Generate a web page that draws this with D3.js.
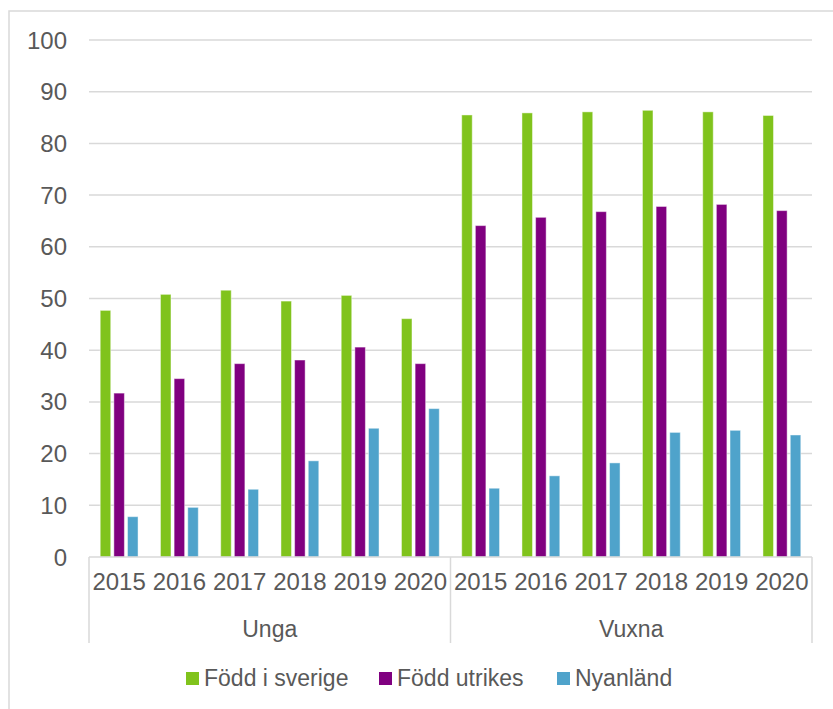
<!DOCTYPE html>
<html>
<head>
<meta charset="utf-8">
<script src="https://cdn.jsdelivr.net/npm/d3@7"></script>
<style>
  html, body { margin: 0; padding: 0; background: #fff; }
  svg text { font-family: "Liberation Sans", Arial, sans-serif; fill: #595959; }
</style>
</head>
<body>
<svg id="chart" width="833" height="709"></svg>
<script>
const groups = ["Unga", "Vuxna"];
const years = ["2015", "2016", "2017", "2018", "2019", "2020"];
const seriesNames = ["Född i sverige", "Född utrikes", "Nyanländ"];
const seriesColors = ["#80c31c", "#800080", "#4fa3cb"];
const foddSverige = [47.7, 50.8, 51.6, 49.5, 50.6, 46.1, 85.5, 85.9, 86.1, 86.4, 86.1, 85.4];
const foddUtrikes = [31.7, 34.5, 37.4, 38.1, 40.6, 37.4, 64.1, 65.7, 66.8, 67.8, 68.2, 67.0];
const nyanland = [7.8, 9.6, 13.1, 18.6, 24.9, 28.7, 13.3, 15.7, 18.2, 24.1, 24.5, 23.6];
const yTicks = [0, 10, 20, 30, 40, 50, 60, 70, 80, 90, 100];

(function () {
const seriesValues = [foddSverige, foddUtrikes, nyanland];
const categories = [];
groups.forEach(g => years.forEach(y => categories.push(g + "|" + y)));

const svg = d3.select("#chart");
const pLeft = 89, pRight = 812, pTop = 40, pBottom = 557;

// outer border
svg.append("rect").attr("x", 9).attr("y", 11).attr("width", 840).attr("height", 720)
  .attr("fill", "none").attr("stroke", "#d9d9d9").attr("stroke-width", 1.5);

const y = d3.scaleLinear().domain([0, 100]).range([pBottom, pTop]);
const x = d3.scaleBand().domain(categories).range([pLeft, pRight]).paddingInner(0).paddingOuter(0);
const xs = d3.scaleBand().domain(d3.range(3)).range([x.bandwidth() / 2 - 20, x.bandwidth() / 2 + 20]).paddingInner(0.23).paddingOuter(0.08);

// gridlines
svg.append("g").selectAll("line").data(yTicks.filter(d => d > 0)).join("line")
  .attr("x1", pLeft).attr("x2", pRight)
  .attr("y1", d => y(d)).attr("y2", d => y(d))
  .attr("stroke", "#d9d9d9").attr("stroke-width", 1.5);

// y labels
svg.append("g").selectAll("text").data(yTicks).join("text")
  .attr("x", 67).attr("y", d => y(d) + 8.5)
  .attr("text-anchor", "end").attr("font-size", 24)
  .text(d => d);

// bars
seriesValues.forEach((vals, si) => {
  svg.append("g").selectAll("rect").data(vals).join("rect")
    .attr("x", (d, i) => x(categories[i]) + xs(si))
    .attr("width", xs.bandwidth())
    .attr("y", d => y(d))
    .attr("height", d => y(0) - y(d))
    .attr("fill", seriesColors[si])
    .attr("stroke", "#ffffff").attr("stroke-opacity", 0.45).attr("stroke-width", 1);
});

// x axis baseline
svg.append("line").attr("x1", pLeft).attr("x2", pRight).attr("y1", pBottom).attr("y2", pBottom)
  .attr("stroke", "#d9d9d9").attr("stroke-width", 1.5);

// group separators
const sepX = [pLeft, x(categories[6]), pRight];
svg.append("g").selectAll("line").data(sepX).join("line")
  .attr("x1", d => d).attr("x2", d => d)
  .attr("y1", pBottom).attr("y2", 643)
  .attr("stroke", "#d9d9d9").attr("stroke-width", 1.5);

// year labels
svg.append("g").selectAll("text").data(categories).join("text")
  .attr("x", d => x(d) + x.bandwidth() / 2).attr("y", 590)
  .attr("text-anchor", "middle").attr("font-size", 24)
  .text(d => d.split("|")[1]);

// group labels
svg.append("g").selectAll("text").data(groups).join("text")
  .attr("x", (d, i) => (sepX[i] + sepX[i + 1]) / 2).attr("y", 637)
  .attr("text-anchor", "middle").attr("font-size", 23)
  .text(d => d);

// legend
const legendX = [186, 379, 557];
const lg = svg.append("g").selectAll("g").data(seriesNames).join("g")
  .attr("transform", (d, i) => `translate(${legendX[i]},0)`);
lg.append("rect").attr("x", 0).attr("y", 672).attr("width", 13).attr("height", 13)
  .attr("fill", (d, i) => seriesColors[i]);
lg.append("text").attr("x", 18).attr("y", 686).attr("font-size", 23).text(d => d);
})();
</script>
</body>
</html>
